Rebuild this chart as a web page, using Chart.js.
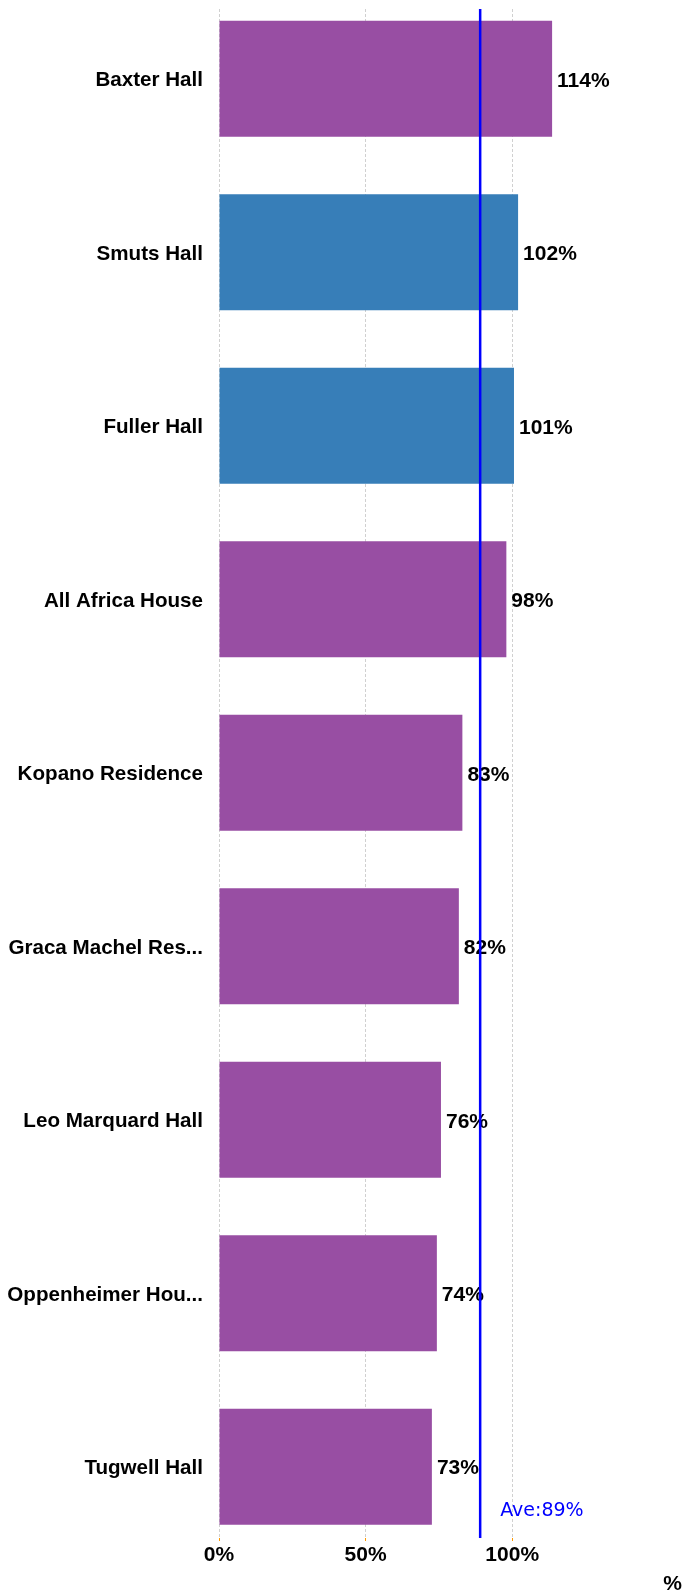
<!DOCTYPE html>
<html><head><meta charset="utf-8">
<script src="https://cdn.jsdelivr.net/npm/chart.js@4.4.1/dist/chart.umd.min.js"></script>
<style>html,body{margin:0;padding:0;background:#fff}#wrap{width:685px;height:1593px;position:relative}</style>
</head><body><div id="wrap"><canvas id="c"></canvas></div>
<script>
const categories = ['Baxter Hall','Smuts Hall','Fuller Hall','All Africa House','Kopano Residence','Graca Machel Res...','Leo Marquard Hall','Oppenheimer Hou...','Tugwell Hall'];
const values = [113.6, 102, 100.6, 98, 83, 81.8, 75.7, 74.3, 72.6];
const highlighted = ['Smuts Hall','Fuller Hall'];
const xTickValues = [0, 50, 100];
const averagePrefix = 'Ave:';
const axisTitle = '%';

const PURPLE = '#984EA3', BLUE = '#377EB8';
const FONT = '"Liberation Sans", Arial, sans-serif';
const average = values.reduce((a, b) => a + b, 0) / values.length;

const overlay = {
  id: 'overlay',
  afterDatasetsDraw(chart) {
    const ctx = chart.ctx, area = chart.chartArea;
    const meta = chart.getDatasetMeta(0);
    ctx.save();
    ctx.font = 'bold 21px ' + FONT;
    ctx.fillStyle = '#000';
    ctx.textAlign = 'left';
    ctx.textBaseline = 'middle';
    meta.data.forEach((bar, i) => {
      ctx.fillText(Math.round(values[i]) + '%', bar.x + 5, bar.y + 2);
    });
    const ax = chart.scales.x.getPixelForValue(average);
    ctx.strokeStyle = '#0000FF';
    ctx.lineWidth = 2.5;
    ctx.beginPath();
    ctx.moveTo(ax, area.top);
    ctx.lineTo(ax, area.bottom);
    ctx.stroke();
    ctx.font = '19px "DejaVu Sans", sans-serif';
    ctx.fillStyle = '#0000FF';
    ctx.fillText(averagePrefix + Math.round(average) + '%', ax + 20, area.bottom - 27);
    ctx.restore();
  }
};

new Chart(document.getElementById('c'), {
  type: 'bar',
  data: {
    datasets: [{
      data: values.map((v, i) => ({ x: v, y: i })),
      backgroundColor: categories.map(c => highlighted.includes(c) ? BLUE : PURPLE),
      borderWidth: 0,
      categoryPercentage: 1,
      barPercentage: 0.668
    }]
  },
  options: {
    indexAxis: 'y',
    responsive: true,
    maintainAspectRatio: false,
    animation: false,
    layout: { padding: { top: 9, right: 3, left: 0, bottom: 0 } },
    plugins: { legend: { display: false }, tooltip: { enabled: false } },
    scales: {
      y: {
        type: 'linear',
        reverse: true,
        offset: false,
        min: -0.402,
        max: 8.411,
        afterBuildTicks: s => { s.ticks = categories.map((c, i) => ({ value: i })); },
        afterFit: s => { s.width = 219; s.paddingTop = 0; s.paddingBottom = 0; },
        grid: { display: false, drawTicks: false },
        border: { display: false },
        ticks: {
          padding: 16,
          labelOffset: 2,
          color: '#000',
          font: { family: FONT, size: 20.6, weight: 'bold' },
          callback: v => categories[v]
        }
      },
      x: {
        type: 'linear',
        min: 0,
        max: 157.9,
        afterBuildTicks: s => { s.ticks = xTickValues.map(v => ({ value: v })); },
        afterFit: s => { s.height = 55; },
        border: { display: false, dash: [3, 2] },
        grid: {
          color: '#d0d0d0',
          lineWidth: 1,
          drawTicks: true,
          tickLength: 3,
          tickColor: '#ff9900'
        },
        ticks: {
          padding: 2,
          color: '#000',
          maxRotation: 0,
          font: { family: FONT, size: 21, weight: 'bold' },
          callback: v => v + '%'
        },
        title: {
          display: true,
          text: axisTitle,
          align: 'end',
          color: '#000',
          padding: { top: 0, bottom: -2 },
          font: { family: FONT, size: 21, weight: 'bold', lineHeight: 1 }
        }
      }
    }
  },
  plugins: [overlay]
});
</script></body></html>
